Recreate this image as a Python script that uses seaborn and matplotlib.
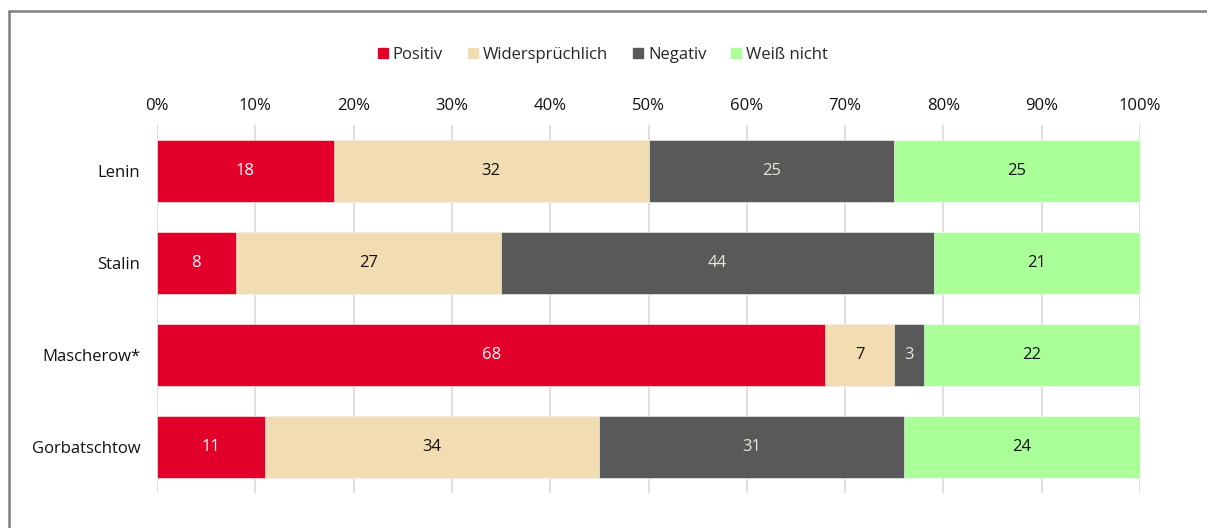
import numpy as np
import pandas as pd
import matplotlib
matplotlib.use("Agg")
import matplotlib.pyplot as plt
import seaborn as sns

categories = ["Lenin", "Stalin", "Mascherow*", "Gorbatschtow"]
series_names = ["Positiv", "Widersprüchlich", "Negativ", "Weiß nicht"]
positiv = [18, 8, 68, 11]
widerspr = [32, 27, 7, 34]
negativ = [25, 44, 3, 31]
weiss = [25, 21, 22, 24]
x_ticks = [0, 10, 20, 30, 40, 50, 60, 70, 80, 90, 100]
x_tick_labels = [f"{t}%" for t in x_ticks]

colors = ["#E2002A", "#F2DCB1", "#595959", "#AAFF99"]
text_colors = ["#FFFFFF", "#111111", "#EDE6D8", "#111111"]

sns.set_theme(style="white")
plt.rcParams["font.family"] = ["Open Sans", "DejaVu Sans"]

FS = 12

values = [positiv, widerspr, negativ, weiss]
cum = np.cumsum(np.array(values), axis=0)

fig = plt.figure(figsize=(12.07, 5.28), dpi=100)
ax = fig.add_axes([157/1207, 1-493/528, (1140-157)/1207, (493-125)/528])

# grid lines
for t in x_ticks:
    ax.axvline(t, color="#D9D9D9", lw=1.2, zorder=0)

# stacked bars: draw cumulative totals from largest to smallest
for i in range(len(series_names) - 1, -1, -1):
    df = pd.DataFrame({"cat": categories, "val": cum[i]})
    sns.barplot(data=df, x="val", y="cat", orient="h", color=colors[i],
                width=0.674, saturation=1, ax=ax, zorder=2 + (3 - i),
                edgecolor="#FFFFFF", linewidth=0.4, label=series_names[i])

# labels
for i in range(len(series_names)):
    for j, c in enumerate(categories):
        v = values[i][j]
        start = cum[i][j] - v
        ax.text(start + v / 2, j, str(v), ha="center", va="center",
                color=text_colors[i], fontsize=FS, zorder=10)

ax.set_xlim(0, 100)
ax.set_ylim(3.5, -0.5)
ax.set_xticks(x_ticks)
ax.set_xticklabels(x_tick_labels, fontsize=FS, color="#111111")
ax.xaxis.tick_top()
ax.tick_params(axis="x", length=0, pad=8)
ax.tick_params(axis="y", length=0, pad=12, labelsize=FS, labelcolor="#111111")
ax.set_xlabel("")
ax.set_ylabel("")
for s in ax.spines.values():
    s.set_visible(False)

# legend
handles = [plt.Rectangle((0, 0), 1, 1, color=c) for c in colors]
fig.legend(handles, series_names, loc="center", bbox_to_anchor=(603/1207, 1-55/528),
           ncol=4, frameon=False, fontsize=FS, handlelength=0.6, handleheight=0.6,
           handletextpad=0.3, columnspacing=1.5)
if ax.get_legend() is not None:
    ax.get_legend().remove()

# outer frame lines (left and top)
fig.add_artist(plt.Line2D([9/1207, 9/1207], [0, 1-11/528], transform=fig.transFigure,
                          color="#7F7F7F", lw=1.8))
fig.add_artist(plt.Line2D([9/1207, 1], [1-11/528, 1-11/528], transform=fig.transFigure,
                          color="#7F7F7F", lw=1.8))

fig.savefig("out.png", dpi=100)
